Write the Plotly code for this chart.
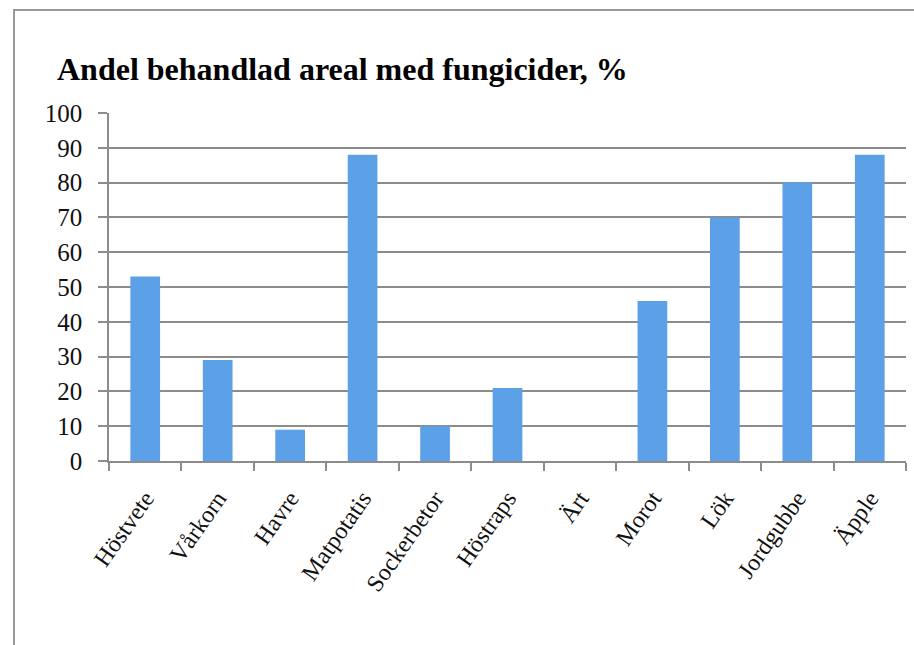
import plotly.graph_objects as go

categories = ["Höstvete", "Vårkorn", "Havre", "Matpotatis", "Sockerbetor", "Höstraps",
              "Ärt", "Morot", "Lök", "Jordgubbe", "Äpple"]
values = [53, 29, 9, 88, 10, 21, 0, 46, 70, 80, 88]
y_ticks = list(range(0, 101, 10))
title_text = "Andel behandlad areal med fungicider, %"

W, H = 914, 645
L, R, T, B = 109, 8, 113, 184
pw = W - L - R
ph = H - T - B

fig = go.Figure()
fig.add_trace(go.Bar(
    x=categories, y=values,
    marker=dict(color="#5ca0e8", line=dict(width=0)),
    width=0.41,
    showlegend=False,
))

gray = "#8c8c8c"
fig.update_layout(
    width=W, height=H,
    margin=dict(l=L, r=R, t=T, b=B),
    paper_bgcolor="white", plot_bgcolor="white",
    font=dict(family="Liberation Serif", color="#111111"),
    title=dict(text="<b>" + title_text + "</b>", x=57 / W, xanchor="left", xref="container",
               y=1 - 69 / H, yanchor="middle", yref="container",
               font=dict(family="Liberation Serif", size=32, color="#000000")),
    xaxis=dict(
        type="category", tickangle=-55, tickfont=dict(size=24),
        showline=True, linecolor=gray, linewidth=1.5,
        ticks="outside", tickson="boundaries", ticklen=8, tickcolor=gray, tickwidth=1.5,
        showgrid=False, ticklabelstandoff=12,
    ),
    yaxis=dict(
        range=[0, 100], tickvals=y_ticks, tickfont=dict(size=25),
        showline=True, linecolor=gray, linewidth=1.5,
        ticks="outside", ticklen=9, tickcolor=gray, tickwidth=1.5,
        showgrid=True, gridcolor=gray, gridwidth=1.5,
        zeroline=False, ticklabelstandoff=11,
    ),
    shapes=[dict(
        type="rect", xref="paper", yref="paper",
        x0=(14 - L) / pw, x1=1.05, y0=-0.7, y1=1 + (T - 10) / ph,
        line=dict(color="#9a9a9a", width=2), fillcolor="rgba(0,0,0,0)", layer="below",
    )],
)

fig.write_html("out.html")
